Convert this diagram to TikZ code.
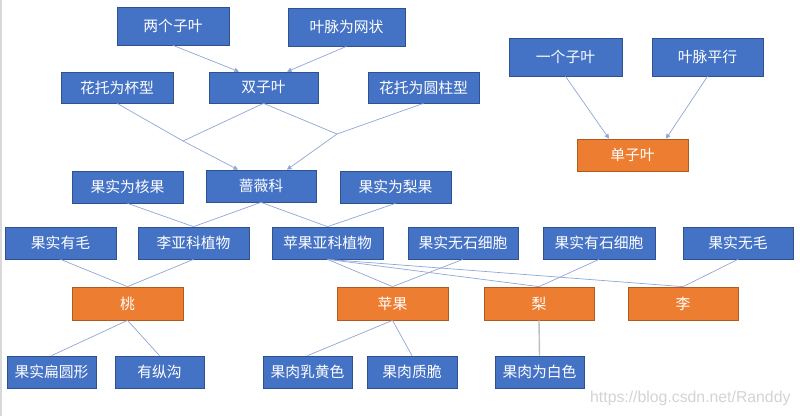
\documentclass[tikz,border=0pt]{standalone}
\usepackage{fontspec}
\setmainfont{Noto Sans CJK SC}
\newfontfamily\wmfont{Liberation Sans}
\usetikzlibrary{arrows.meta,calc}
\definecolor{bfill}{HTML}{4472C4}
\definecolor{bline}{HTML}{2F528F}
\definecolor{ofill}{HTML}{ED7D31}
\definecolor{oline}{HTML}{AE5A21}
\definecolor{conn}{RGB}{143,166,214}
\definecolor{wmgray}{RGB}{212,212,212}
\tikzset{
  base/.style={rectangle, inner sep=0pt, text=white, line width=0.7pt,
    font=\fontsize{14.8}{17}\selectfont},
  bbox/.style={base, fill=bfill, draw=bline},
  obox/.style={base, fill=ofill, draw=oline},
  cn/.style={draw=conn, line width=0.7pt},
  ca/.style={cn, -{Triangle[width=4.5pt,length=4.5pt]}},
  gl/.style={draw=black!25, line width=1.4pt}
}
\begin{document}
\begin{tikzpicture}[x=1pt,y=-1pt]
\useasboundingbox (0,0) rectangle (800,416);
\fill[white] (0,0) rectangle (800,416);
\draw[draw=black!15, line width=1.5pt] (1,0) -- (1,416);
% top
\node[bbox, minimum width=112pt, minimum height=38pt] (lz) at (173,26) {两个子叶};
\node[bbox, minimum width=117pt, minimum height=38pt] (wz) at (346.5,27) {叶脉为网状};
\node[bbox, minimum width=112pt, minimum height=31pt] (bx) at (117,87.5) {花托为杯型};
\node[bbox, minimum width=109pt, minimum height=31pt] (sz) at (263.5,87.5) {双子叶};
\node[bbox, minimum width=111pt, minimum height=31pt] (yz) at (423.5,87.5) {花托为圆柱型};
\node[bbox, minimum width=113pt, minimum height=38pt] (yg) at (565.5,57) {一个子叶};
\node[bbox, minimum width=111pt, minimum height=38pt] (mp) at (707.5,57) {叶脉平行};
\node[obox, minimum width=111pt, minimum height=32pt] (dz) at (632.5,155) {单子叶};
% middle
\node[bbox, minimum width=111pt, minimum height=32pt] (hg) at (127.5,187) {果实为核果};
\node[bbox, minimum width=110pt, minimum height=32pt] (qw) at (261,186) {蔷薇科};
\node[bbox, minimum width=111pt, minimum height=32pt] (lg) at (395.5,187) {果实为梨果};
\node[bbox, minimum width=111pt, minimum height=32pt] (ym) at (60.5,243) {果实有毛};
\node[bbox, minimum width=111pt, minimum height=32pt] (ly) at (193.5,243) {李亚科植物};
\node[bbox, minimum width=111pt, minimum height=32pt] (py) at (327.5,243) {苹果亚科植物};
\node[bbox, minimum width=110pt, minimum height=32pt] (ws) at (463,243) {果实无石细胞};
\node[bbox, minimum width=112pt, minimum height=32pt] (ys) at (599,243) {果实有石细胞};
\node[bbox, minimum width=110pt, minimum height=32pt] (wm) at (738,243) {果实无毛};
% fruits
\node[obox, minimum width=111pt, minimum height=33pt] (tao) at (127.5,303.5) {桃};
\node[obox, minimum width=111pt, minimum height=33pt] (pg) at (392.5,303.5) {苹果};
\node[obox, minimum width=110pt, minimum height=33pt] (li) at (539,303.5) {梨};
\node[obox, minimum width=110pt, minimum height=33pt] (lzi) at (683,303.5) {李};
% bottom
\node[bbox, minimum width=89pt, minimum height=32pt] (bp) at (51.5,372) {果实扁圆形};
\node[bbox, minimum width=89pt, minimum height=32pt] (zg) at (159.5,372) {有纵沟};
\node[bbox, minimum width=89pt, minimum height=32pt] (rh) at (307.5,372) {果肉乳黄色};
\node[bbox, minimum width=90pt, minimum height=32pt] (zc) at (412,372) {果肉质脆};
\node[bbox, minimum width=89pt, minimum height=32pt] (bs) at (539.5,372) {果肉为白色};
% junctions
\coordinate (j1) at (183,141);
\coordinate (j2) at (337,134);
% arrows
\draw[ca] (lz.south) -- ([xshift=-24.5pt]sz.north);
\draw[ca] (wz.south) -- ([xshift=23.5pt]sz.north);
\draw[cn] (sz.south) -- (j1);
\draw[cn] (sz.south) -- (j2);
\draw[ca] (bx.south) -- (j1) -- ([xshift=-23pt]qw.north);
\draw[ca] (yz.south) -- (j2) -- ([xshift=26pt]qw.north);
\draw[ca] (yg.south) -- ([xshift=-23.5pt]dz.north);
\draw[ca] (mp.south) -- ([xshift=33.5pt]dz.north);
% lines
\draw[cn] (hg.south) -- (ly.north);
\draw[cn] (qw.south) -- (ly.north);
\draw[cn] (qw.south) -- (py.north);
\draw[cn] (lg.south) -- (py.north);
\draw[cn] (ym.south) -- (tao.north);
\draw[cn] (ly.south) -- (tao.north);
\draw[cn] (tao.south) -- (bp.north);
\draw[cn] (tao.south) -- (zg.north);
\draw[cn] (py.south) -- (pg.north);
\draw[cn] (py.south) -- (li.north);
\draw[cn] (py.south) -- (lzi.north);
\draw[cn] (ws.south) -- (pg.north);
\draw[cn] (ys.south) -- (li.north);
\draw[cn] (wm.south) -- (lzi.north);
\draw[cn] (pg.south) -- (rh.north);
\draw[cn] (pg.south) -- (zc.north);
\draw[gl] (li.south) -- (bs.north);
% watermark
\node[anchor=west, inner sep=0pt, text=wmgray, font=\wmfont\fontsize{15.8}{18}\selectfont] (wmk) at (590,398) {https://blog.csdn.net/Randdy};
\end{tikzpicture}
\end{document}
